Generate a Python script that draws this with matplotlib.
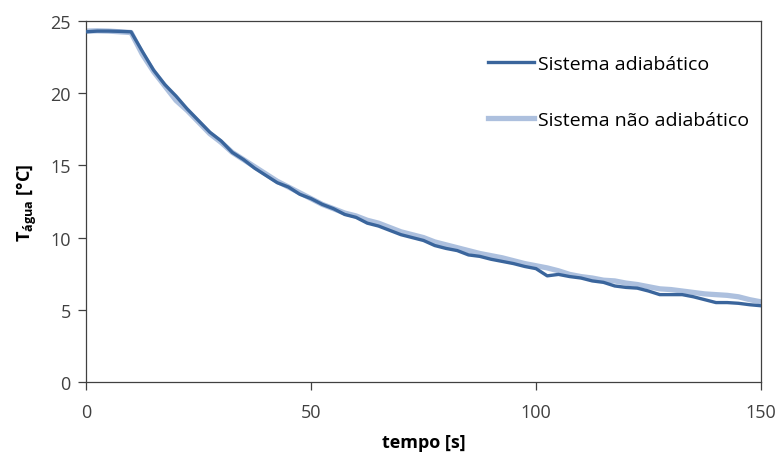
import matplotlib
matplotlib.use("Agg")
import matplotlib.pyplot as plt

plt.rcParams['font.family'] = ['Open Sans', 'DejaVu Sans']
plt.rcParams['mathtext.fontset'] = 'custom'
plt.rcParams['mathtext.rm'] = 'Open Sans'
plt.rcParams['mathtext.bf'] = 'Open Sans:bold'

tempo = [0, 2.5, 5, 7.5, 10, 12.5, 15, 17.5, 20, 22.5, 25, 27.5, 30, 32.5, 35, 37.5,
         40, 42.5, 45, 47.5, 50, 52.5, 55, 57.5, 60, 62.5, 65, 67.5, 70, 72.5, 75,
         77.5, 80, 82.5, 85, 87.5, 90, 92.5, 95, 97.5, 100, 102.5, 105, 107.5, 110,
         112.5, 115, 117.5, 120, 122.5, 125, 127.5, 130, 132.5, 135, 137.5, 140,
         142.5, 145, 147.5, 150]

adiabatico = [24.25, 24.3, 24.3, 24.28, 24.25, 22.9, 21.6, 20.6, 19.8, 18.9, 18.1, 17.3,
              16.7, 15.9, 15.4, 14.8, 14.3, 13.8, 13.5, 13.0, 12.7, 12.3, 12.0, 11.6,
              11.4, 11.0, 10.8, 10.5, 10.2, 10.0, 9.8, 9.45, 9.25, 9.1, 8.8, 8.7, 8.5,
              8.35, 8.2, 8.0, 7.85, 7.35, 7.45, 7.3, 7.2, 7.0, 6.9, 6.65, 6.55, 6.5,
              6.3, 6.05, 6.05, 6.05, 5.9, 5.7, 5.5, 5.5, 5.45, 5.35, 5.28]

nao_adiabatico = [24.3, 24.32, 24.3, 24.25, 24.2, 22.7, 21.5, 20.5, 19.5, 18.8, 18.0,
                  17.2, 16.6, 15.9, 15.4, 14.9, 14.4, 13.9, 13.5, 13.1, 12.7, 12.3,
                  12.0, 11.7, 11.5, 11.2, 11.0, 10.7, 10.4, 10.2, 10.0, 9.7, 9.5, 9.3,
                  9.1, 8.9, 8.75, 8.6, 8.4, 8.2, 8.05, 7.9, 7.7, 7.45, 7.3, 7.2, 7.05,
                  7.0, 6.85, 6.75, 6.6, 6.45, 6.4, 6.3, 6.2, 6.1, 6.05, 6.0, 5.9, 5.7,
                  5.55]

labels = ['Sistema adiabático', 'Sistema não adiabático']

fig = plt.figure(figsize=(7.8, 4.56), dpi=100)
ax = fig.add_axes([0.1103, 0.1601, 0.8653, 0.7917])

ax.plot(tempo, adiabatico, color='#3A659C', lw=2.4, label=labels[0], zorder=3,
        solid_joinstyle='round')
ax.plot(tempo, nao_adiabatico, color='#A4BADB', lw=3.8, label=labels[1], zorder=2,
        solid_joinstyle='round', alpha=0.9)

ax.set_xlim(0, 150)
ax.set_ylim(0, 25)
ax.set_xticks([0, 50, 100, 150])
ax.set_yticks([0, 5, 10, 15, 20, 25])

for s in ax.spines.values():
    s.set_color('#404040')
    s.set_linewidth(0.9)
ax.tick_params(direction='out', length=6, width=0.9, color='#404040',
               labelcolor='#404040', labelsize=13, pad=5)
ax.tick_params(axis='x', pad=9)

ax.set_xlabel('tempo [s]', fontsize=13, fontweight='bold', labelpad=9)
ax.set_ylabel(r'T$_{\mathbf{água}}$ [°C]', fontsize=13, fontweight='bold', labelpad=8)

leg = ax.legend(loc='upper left', bbox_to_anchor=(0.5956, 0.905), frameon=False,
                fontsize=14, handlelength=2.35, handletextpad=0.22, labelspacing=1.95,
                borderpad=0, borderaxespad=0)

fig.savefig('out.png', dpi=100)
